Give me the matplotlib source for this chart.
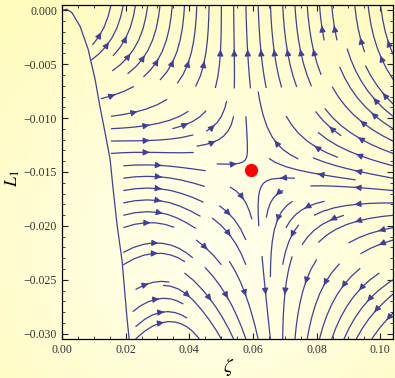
import numpy as np
import matplotlib.pyplot as plt
from matplotlib.ticker import MultipleLocator, FuncFormatter

# boundary curve (zeta, L1)
curve_zeta = [0.0, 0.0015, 0.0031, 0.0057, 0.0082, 0.0104, 0.0119, 0.0135,
              0.0151, 0.0160, 0.0173, 0.0189, 0.0204, 0.0211]
curve_L = [0.0, 0.0001, -0.0002, -0.0015, -0.0036, -0.0064, -0.0089, -0.0113,
           -0.0138, -0.0164, -0.0199, -0.0233, -0.0285, -0.0305]

# fixed point (red dot)
fp_zeta = 0.0594
fp_L = -0.0148

# directions of the separatrices through the fixed point
stable_slope = -0.07      # dL/dzeta along the incoming separatrix
unstable_slope = -0.6     # dzeta/dL along the outgoing separatrix

# where the lower-left streamlines turn over (dL/dt = 0)
turn_L = [-0.0135, -0.0155, -0.019, -0.022, -0.0266, -0.029]
turn_zeta = [0.025, 0.027, 0.027, 0.030, 0.032, 0.034]

xlim = (0.0, 0.104)
ylim = (-0.0305, 0.0005)

plt.rcParams['mathtext.fontset'] = 'stix'
plt.rcParams['font.family'] = ['Liberation Serif', 'DejaVu Serif']

fig = plt.figure(figsize=(3.95, 3.78), dpi=100)

# yellow gradient background
bg = fig.add_axes([0, 0, 1, 1], zorder=-10)
gy, gx = np.mgrid[0:1:200j, 0:1:200j]
r = np.clip(np.hypot((gx - 0.55) / 0.8, (gy - 0.65) / 0.8), 0, 1)
inner = np.array([255, 255, 234]) / 255
outer = np.array([255, 251, 188]) / 255
img = inner + (outer - inner) * r[..., None] ** 1.3
bg.imshow(img, extent=[0, 1, 0, 1], aspect='auto')
bg.axis('off')

ax = fig.add_axes([62 / 395, 1 - 339 / 378, 331 / 395, 334 / 378])
ax.set_facecolor('none')

# vector field on a grid
Z, L = np.meshgrid(np.linspace(xlim[0], xlim[1], 240),
                   np.linspace(ylim[0], ylim[1], 240))
p = L - fp_L - stable_slope * (Z - fp_zeta)
q = Z - fp_zeta - unstable_slope * (L - fp_L)
zn = np.interp(L, turn_L[::-1], turn_zeta[::-1])
phi = np.where(p < 0, np.clip((Z - zn) / 0.009, -3, 1), 1.0)
lam_u, lam_s = 0.6, 1.0
top_weak = 0.15 + 0.85 * np.clip(-L / 0.014, 0, 1)
V = lam_u * p * phi
U = -lam_s * q * top_weak * np.where(q < 0, 1.0, 0.6)

edge = np.interp(-L, -np.array(curve_L[2:]), curve_zeta[2:])
outside = Z < edge
U = np.ma.array(U, mask=outside)
V = np.ma.array(V, mask=outside)

col = '#3f3f9c'
kw = dict(density=0.95, color=col, linewidth=0.9, arrowsize=0.9, maxlength=0.5)
try:
    ax.streamplot(Z, L, U, V, num_arrows=2, **kw)
except TypeError:
    ax.streamplot(Z, L, U, V, **kw)
ax.plot(curve_zeta, curve_L, color=col, lw=0.9)
ax.plot(fp_zeta, fp_L, 'o', color='red', ms=8.5, zorder=5)

ax.set_xlim(*xlim)
ax.set_ylim(*ylim)
ax.xaxis.set_major_locator(MultipleLocator(0.02))
ax.xaxis.set_minor_locator(MultipleLocator(0.005))
ax.yaxis.set_major_locator(MultipleLocator(0.005))
ax.yaxis.set_minor_locator(MultipleLocator(0.001))
ax.xaxis.set_major_formatter(FuncFormatter(lambda v, _: f'{v:.2f}'))
ax.yaxis.set_major_formatter(
    FuncFormatter(lambda v, _: f'{v:.3f}'.replace('-', '\u2212') if abs(v) > 1e-9 else '0.000'))
ax.tick_params(which='both', direction='in', top=True, right=True,
               labelsize=8.5, colors='#222222', labelcolor='#333333')
ax.tick_params(which='major', length=4, width=0.8)
ax.tick_params(which='minor', length=2, width=0.6)
for s in ax.spines.values():
    s.set_linewidth(0.9)

fig.text(229 / 395, 1 - 367 / 378, r'$\zeta$', fontsize=14, ha='center', va='center')
fig.text(13 / 395, 1 - 178 / 378, r'$L_1$', fontsize=13, ha='center', va='center',
         rotation=90)

fig.savefig('out.png', dpi=100)
